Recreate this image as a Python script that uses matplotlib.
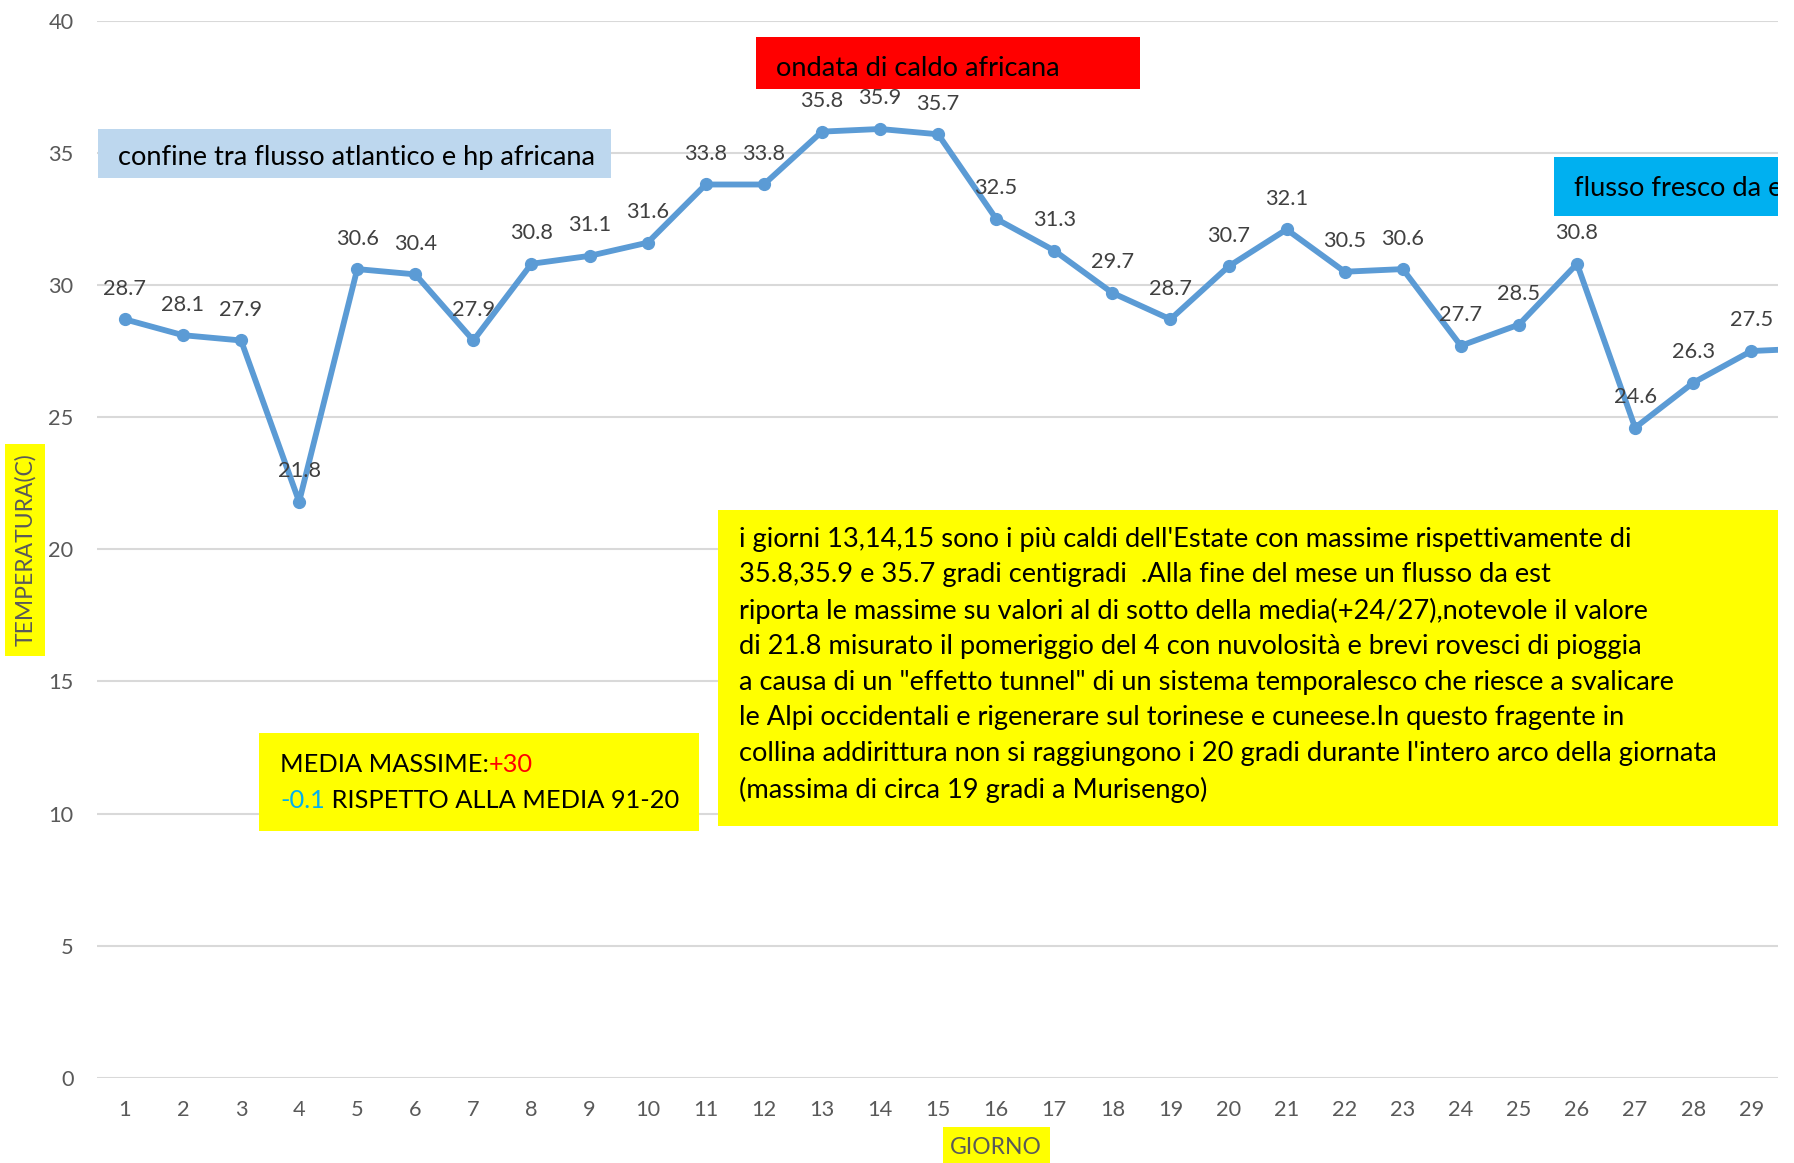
import matplotlib
matplotlib.use("Agg")
import matplotlib.pyplot as plt
from matplotlib.patches import Rectangle

days = list(range(1, 31))
tmax = [28.7, 28.1, 27.9, 21.8, 30.6, 30.4, 27.9, 30.8, 31.1, 31.6,
        33.8, 33.8, 35.8, 35.9, 35.7, 32.5, 31.3, 29.7, 28.7, 30.7,
        32.1, 30.5, 30.6, 27.7, 28.5, 30.8, 24.6, 26.3, 27.5, 27.6]
yticks = [0, 5, 10, 15, 20, 25, 30, 35, 40]

note_lines = [
    "i giorni 13,14,15 sono i più caldi dell'Estate con massime rispettivamente di",
    "35.8,35.9 e 35.7 gradi centigradi  .Alla fine del mese un flusso da est",
    "riporta le massime su valori al di sotto della media(+24/27),notevole il valore",
    "di 21.8 misurato il pomeriggio del 4 con nuvolosità e brevi rovesci di pioggia",
    "a causa di un \"effetto tunnel\" di un sistema temporalesco che riesce a svalicare",
    "le Alpi occidentali e rigenerare sul torinese e cuneese.In questo fragente in",
    "collina addirittura non si raggiungono i 20 gradi durante l'intero arco della giornata",
    "(massima di circa 19 gradi a Murisengo)",
]

W, H = 1794, 1163
plt.rcParams['font.family'] = ['Lato', 'DejaVu Sans']
fig = plt.figure(figsize=(W / 100, H / 100), dpi=100)

def fx(px):
    return px / W

def fy(py):
    return 1 - py / H

ax = fig.add_axes([fx(97), fy(1078), fx(1778) - fx(97), fy(20.6) - fy(1078)])
ax.set_yticks(yticks)
ax.set_xticks(days)
ax.set_xlim(0.52, 29.46)
ax.set_ylim(0, 40)
ax.yaxis.grid(True, color='#D9D9D9', linewidth=1.5, zorder=0)
ax.set_axisbelow(True)
for s in ax.spines.values():
    s.set_visible(False)
ax.tick_params(length=0, colors='#595959', labelsize=15.7)
ax.tick_params(axis='y', pad=17)
ax.tick_params(axis='x', pad=16)

ax.plot(days, tmax, color='#5B9BD5', linewidth=4.2, marker='o', markersize=8.5,
        zorder=3, clip_on=True)
for d, v in zip(days, tmax):
    ax.annotate(f"{v}", (d, v), xytext=(0, 22), textcoords='offset points',
                ha='center', va='center', fontsize=15.7, color='#404040',
                zorder=4, annotation_clip=True, clip_on=True)

def box(x0, y0, x1, y1, color, target):
    r = Rectangle((fx(x0), fy(y1)), fx(x1) - fx(x0), fy(y0) - fy(y1),
                  transform=fig.transFigure, facecolor=color, edgecolor='none', zorder=2)
    if target is ax:
        ax.add_patch(r)
    else:
        fig.add_artist(r)
    return r

FS = 19.6
# light blue box
box(98, 129, 611, 178, '#BDD7EE', ax)
ax.text(fx(118), fy(158), "confine tra flusso atlantico e hp africana", transform=fig.transFigure,
        ha='left', va='center', fontsize=FS, color='black', zorder=5)
# red box
box(756, 37, 1140, 89, '#FF0000', ax)
ax.text(fx(776), fy(68), "ondata di caldo africana", transform=fig.transFigure,
        ha='left', va='center', fontsize=FS, color='black', zorder=5)
# cyan box (clipped by plot area)
box(1554, 157, 1800, 216, '#00B0F0', ax)
ax.text(fx(1574), fy(188), "flusso fresco da est", transform=fig.transFigure,
        ha='left', va='center', fontsize=FS, color='black', zorder=5, clip_on=True)

# big yellow note
box(718, 510, 1778, 826, '#FFFF00', ax)
for i, line in enumerate(note_lines):
    ax.text(fx(739), fy(539 + i * 35.8), line, transform=fig.transFigure, ha='left',
            va='center', fontsize=FS, color='black', zorder=5)

# media box
FM = 18.3
box(259, 733, 699, 831, '#FFFF00', ax)
t1 = ax.text(fx(280), fy(764), "MEDIA MASSIME:", transform=fig.transFigure, ha='left',
             va='center', fontsize=FM, color='black', zorder=5)
ax.annotate("+30", xycoords=t1, xy=(1, 0), xytext=(0, 0), textcoords='offset points',
            ha='left', va='bottom', fontsize=FM, color='#FF0000', zorder=5)
t2 = ax.text(fx(280), fy(800), "-0.1", transform=fig.transFigure, ha='left',
             va='center', fontsize=FM, color='#00B0F0', zorder=5)
ax.annotate(" RISPETTO ALLA MEDIA 91-20", xycoords=t2, xy=(1, 0), xytext=(0, 0),
            textcoords='offset points', ha='left', va='bottom', fontsize=FM,
            color='black', zorder=5)

# axis titles with yellow background
box(5, 444, 45, 656, '#FFFF00', fig)
fig.text(fx(25), fy(550), "TEMPERATURA(C)", rotation=90, ha='center', va='center',
         fontsize=16.5, color='#595959', zorder=5)
box(943, 1127, 1050, 1170, '#FFFF00', fig)
fig.text(fx(996), fy(1148), "GIORNO", ha='center', va='center', fontsize=16.5,
         color='#595959', zorder=5)

fig.savefig("out.png", dpi=100)
